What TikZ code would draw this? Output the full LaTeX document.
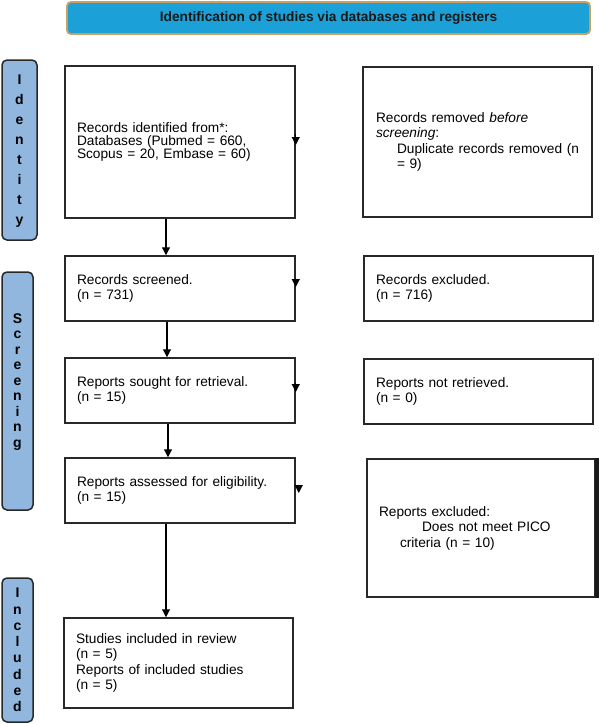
\documentclass[tikz,border=0pt]{standalone}
\usepackage{fontspec}
\setmainfont{Liberation Sans}
\usetikzlibrary{arrows.meta}
\definecolor{bannerblue}{RGB}{27,160,216}
\definecolor{bannerrim}{RGB}{200,160,95}
\definecolor{stagefill}{RGB}{146,183,222}
\definecolor{rim}{RGB}{40,40,40}
\tikzset{
  box/.style={draw=rim, line width=1.5pt, fill=white, rectangle, align=left,
    inner xsep=12pt, inner ysep=0pt, font=\fontsize{13.7}{15.5}\selectfont},
  stage/.style={draw=rim, line width=1.5pt, fill=stagefill, rounded corners=5pt,
    minimum width=31pt, inner sep=0pt},
  stagetext/.style={align=center, inner sep=0pt, text=black},
  arr/.style={draw=black, line width=1.1pt, -{Triangle[width=8pt,length=8pt]}},
  banner/.style={draw=bannerrim, line width=1.8pt, fill=bannerblue, rounded corners=4pt,
    font=\fontsize{13.7}{16}\selectfont\bfseries, text=black!90, inner sep=0pt}
}
\begin{document}
\begin{tikzpicture}[x=1pt,y=-1pt]
\useasboundingbox (0,0) rectangle (598,724);

% banner
\node[banner, minimum width=523pt, minimum height=32pt] (title) at (328.5,18) {Identification of studies via databases and registers};

% stage labels
\node[stage, minimum width=35pt, minimum height=180pt] (sid) at (19.5,150) {};
\node[stagetext, font=\fontsize{14}{20}\selectfont\bfseries] (sidt) at (19.5,151) {I\\d\\e\\n\\t\\i\\t\\y};
\node[stage, minimum height=238pt] (ssc) at (17.5,391) {};
\node[stagetext, font=\fontsize{14}{15.5}\selectfont\bfseries] (ssct) at (17.5,382) {S\\c\\r\\e\\e\\n\\i\\n\\g};
\node[stage, minimum height=144pt] (sin) at (17.5,650) {};
\node[stagetext, font=\fontsize{14}{16.3}\selectfont\bfseries] (sint) at (17.5,650) {I\\n\\c\\l\\u\\d\\e\\d};

% left column
\node[box, minimum width=230pt, minimum height=152pt, text width=206pt,
  font=\fontsize{13.7}{12.8}\selectfont] (b1) at (180,142)
  {Records identified from*:\\Databases (Pubmed = 660,\\Scopus = 20, Embase = 60)};
\node[box, minimum width=230pt, minimum height=65pt, text width=206pt] (b2) at (180,288.5)
  {Records screened.\\(n = 731)};
\node[box, minimum width=230pt, minimum height=65pt, text width=206pt] (b3) at (180,390.5)
  {Reports sought for retrieval.\\(n = 15)};
\node[box, minimum width=230pt, minimum height=65pt, text width=206pt] (b4) at (180,490.5)
  {Reports assessed for eligibility.\\(n = 15)};
\node[box, minimum width=229pt, minimum height=90pt, text width=205pt] (b5) at (178.5,663)
  {Studies included in review\\(n = 5)\\Reports of included studies\\(n = 5)};

% right column
\node[box, minimum width=229pt, minimum height=150pt, text width=203pt, inner xsep=13pt] (r1) at (477.5,142)
  {Records removed \emph{before}\\\emph{screening}:\\\hspace*{21pt}Duplicate records removed (n\\\hspace*{21pt}= 9)};
\node[box, minimum width=229pt, minimum height=65pt, text width=205pt] (r2) at (478.5,288.5)
  {Records excluded.\\(n = 716)};
\node[box, minimum width=229pt, minimum height=65pt, text width=205pt] (r3) at (478.5,391.5)
  {Reports not retrieved.\\(n = 0)};
\node[box, minimum width=228pt, minimum height=138pt, text width=204pt] (r4) at (481,528)
  {Reports excluded:\\\hspace*{43pt}Does not meet PICO\\\hspace*{21pt}criteria (n = 10)};
\draw[line width=4pt, draw=black!90] ([xshift=1.5pt]r4.north east) -- ([xshift=1.5pt]r4.south east);

% vertical arrows
\draw[arr] ([xshift=-14pt]b1.south) -- ([xshift=-14pt]b2.north);
\draw[arr] ([xshift=-13pt]b2.south) -- ([xshift=-13pt]b3.north);
\draw[arr] ([xshift=-12pt]b3.south) -- ([xshift=-12pt]b4.north);
\draw[arr] ([xshift=-14pt]b4.south) -- ([xshift=-12.5pt]b5.north);

% arrowheads on the right edges
\draw[arr] ([yshift=8pt]b1.east) -- ([yshift=-3pt]b1.east);
\draw[arr] ([yshift=10pt]b2.east) -- ([yshift=1.5pt]b2.east);
\draw[arr] ([yshift=8pt]b3.east) -- ([yshift=-1.5pt]b3.east);
\draw[arr] ([xshift=3pt,yshift=6pt]b4.east) -- ([xshift=3pt,yshift=-2.5pt]b4.east);
\end{tikzpicture}
\end{document}
